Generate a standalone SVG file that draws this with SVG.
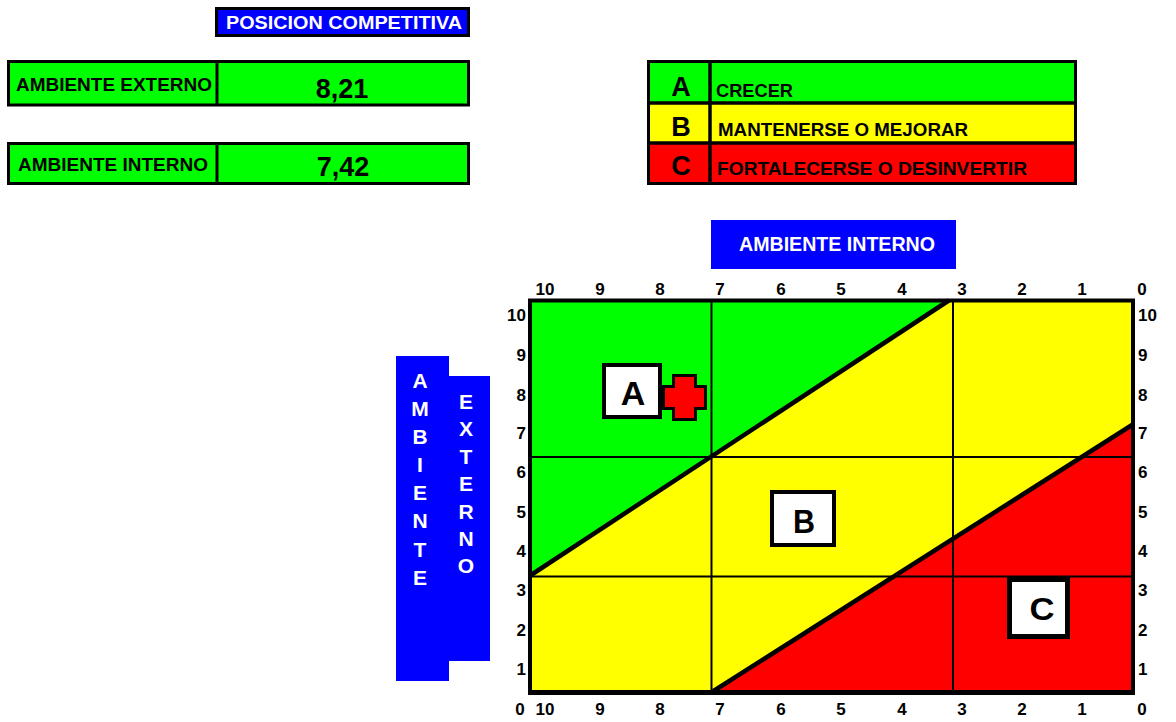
<svg xmlns="http://www.w3.org/2000/svg" width="1176" height="722" viewBox="0 0 1176 722">
<style>
text{font-family:"Liberation Sans",Arial,sans-serif;font-weight:bold;}
.w{fill:#fff;}
.k{fill:#000;}
.box{stroke:#000;stroke-width:3;}
.g{fill:#00FF00;}
.y{fill:#FFFF00;}
.r{fill:#FF0000;}
.b{fill:#0000FF;}
.grid{stroke:#000;stroke-width:2;fill:none;}
.diag{stroke:#000;stroke-width:4.5;fill:none;stroke-linecap:round;}
.num{font-size:17px;fill:#000;}
.mid{text-anchor:middle;}
.end{text-anchor:end;}
.lbl{fill:#fff;stroke:#000;stroke-width:4;}
</style>
<rect width="1176" height="722" fill="#fff"/>

<g id="title">
<rect class="box b" x="216.5" y="8.5" width="252" height="27"/>
<text class="w mid" x="344" y="29" font-size="17.5" textLength="236" lengthAdjust="spacingAndGlyphs">POSICION COMPETITIVA</text>
</g>

<g id="row-externo">
<rect class="box g" x="8.5" y="61.5" width="460" height="43.5"/>
<line x1="217" y1="61" x2="217" y2="106" stroke="#000" stroke-width="3"/>
<text class="k" x="16" y="91" font-size="17.5" textLength="196" lengthAdjust="spacingAndGlyphs">AMBIENTE EXTERNO</text>
<text class="k mid" x="342" y="98" font-size="27">8,21</text>
</g>

<g id="row-interno">
<rect class="box g" x="8.5" y="143.5" width="460" height="40"/>
<line x1="217" y1="143" x2="217" y2="185" stroke="#000" stroke-width="3"/>
<text class="k" x="18" y="171" font-size="17.5" textLength="190" lengthAdjust="spacingAndGlyphs">AMBIENTE INTERNO</text>
<text class="k mid" x="343" y="176" font-size="27">7,42</text>
</g>

<g id="legend">
<rect class="g" x="648" y="61" width="428" height="42"/>
<rect class="y" x="648" y="103" width="428" height="40"/>
<rect class="r" x="648" y="143" width="428" height="41"/>
<rect x="648.5" y="61.5" width="427" height="122" fill="none" stroke="#000" stroke-width="3"/>
<line x1="647" y1="103" x2="1077" y2="103" stroke="#000" stroke-width="3.5"/>
<line x1="647" y1="143" x2="1077" y2="143" stroke="#000" stroke-width="3.5"/>
<line x1="710" y1="60" x2="710" y2="185" stroke="#000" stroke-width="3.5"/>
<text class="k mid" x="681" y="96" font-size="27">A</text>
<text class="k mid" x="681" y="136" font-size="27">B</text>
<text class="k mid" x="681" y="175" font-size="27">C</text>
<text class="k" x="716" y="97" font-size="17.5" textLength="77" lengthAdjust="spacingAndGlyphs">CRECER</text>
<text class="k" x="718" y="136" font-size="17.5" textLength="250" lengthAdjust="spacingAndGlyphs">MANTENERSE O MEJORAR</text>
<text class="k" x="717" y="175" font-size="17.5" textLength="310" lengthAdjust="spacingAndGlyphs">FORTALECERSE O DESINVERTIR</text>
</g>

<g id="label-interno">
<rect class="b" x="711" y="220" width="245" height="49"/>
<text class="w mid" x="837" y="251" font-size="21" textLength="196" lengthAdjust="spacingAndGlyphs">AMBIENTE INTERNO</text>
</g>

<g id="label-externo">
<rect class="b" x="396" y="356" width="53" height="325"/>
<rect class="b" x="449" y="376" width="41" height="285"/>
<text class="w mid" font-size="21">
<tspan x="420" y="388">A</tspan><tspan x="420" y="416">M</tspan><tspan x="420" y="444">B</tspan><tspan x="420" y="472">I</tspan><tspan x="420" y="500">E</tspan><tspan x="420" y="528">N</tspan><tspan x="420" y="557">T</tspan><tspan x="420" y="585">E</tspan>
</text>
<text class="w mid" font-size="21">
<tspan x="466" y="409">E</tspan><tspan x="466" y="436">X</tspan><tspan x="466" y="464">T</tspan><tspan x="466" y="491">E</tspan><tspan x="466" y="519">R</tspan><tspan x="466" y="546">N</tspan><tspan x="466" y="573">O</tspan>
</text>
</g>

<g id="matrix">
<rect class="y" x="530" y="300" width="603" height="393"/>
<polygon class="g" points="530,300 948,300 530,576"/>
<polygon class="r" points="711,693 1133,424 1133,693"/>
</g>

<g id="connectors">
<line class="grid" x1="711.5" y1="300" x2="711.5" y2="693"/>
<line class="grid" x1="953" y1="300" x2="953" y2="693"/>
<line class="grid" x1="530" y1="457" x2="1133" y2="457"/>
<line class="grid" x1="530" y1="576.5" x2="1133" y2="576.5"/>
<line class="diag" x1="531" y1="575" x2="948" y2="301"/>
<line class="diag" x1="712" y1="692" x2="1132" y2="425"/>
<rect x="530" y="300.5" width="603" height="391.5" fill="none" stroke="#000" stroke-width="4"/>
<line x1="528" y1="692.5" x2="1135" y2="692.5" stroke="#000" stroke-width="5"/>
</g>

<g id="axis-top">
<text class="num mid" y="295"><tspan x="545">10</tspan><tspan x="600">9</tspan><tspan x="660">8</tspan><tspan x="720">7</tspan><tspan x="781">6</tspan><tspan x="841">5</tspan><tspan x="902">4</tspan><tspan x="962">3</tspan><tspan x="1022">2</tspan><tspan x="1082">1</tspan><tspan x="1142">0</tspan></text>
</g>
<g id="axis-bottom">
<text class="num mid" y="715"><tspan x="520">0</tspan><tspan x="545">10</tspan><tspan x="600">9</tspan><tspan x="660">8</tspan><tspan x="720">7</tspan><tspan x="781">6</tspan><tspan x="841">5</tspan><tspan x="902">4</tspan><tspan x="962">3</tspan><tspan x="1022">2</tspan><tspan x="1082">1</tspan><tspan x="1142">0</tspan></text>
</g>
<g id="axis-left">
<text class="num end"><tspan x="526" y="321">10</tspan><tspan x="526" y="361">9</tspan><tspan x="526" y="401">8</tspan><tspan x="526" y="439">7</tspan><tspan x="526" y="478">6</tspan><tspan x="526" y="518">5</tspan><tspan x="526" y="557">4</tspan><tspan x="526" y="596">3</tspan><tspan x="526" y="636">2</tspan><tspan x="526" y="675">1</tspan></text>
</g>
<g id="axis-right">
<text class="num"><tspan x="1138" y="321">10</tspan><tspan x="1138" y="361">9</tspan><tspan x="1138" y="401">8</tspan><tspan x="1138" y="439">7</tspan><tspan x="1138" y="478">6</tspan><tspan x="1138" y="518">5</tspan><tspan x="1138" y="557">4</tspan><tspan x="1138" y="596">3</tspan><tspan x="1138" y="636">2</tspan><tspan x="1138" y="675">1</tspan></text>
</g>

<g id="node-A">
<rect class="lbl" x="604" y="365" width="56" height="52"/>
<text class="k mid" x="633" y="405" font-size="34">A</text>
</g>
<g id="position-marker">
<path d="M673.5,375.5 H695.5 V386.5 H705.5 V408.5 H695.5 V419.5 H673.5 V408.5 H663.5 V386.5 H673.5 Z" fill="#FF0000" stroke="#000" stroke-width="3"/>
</g>
<g id="node-B">
<rect class="lbl" x="772" y="492" width="62" height="53"/>
<text class="k mid" x="804" y="533" font-size="33" textLength="22" lengthAdjust="spacingAndGlyphs">B</text>
</g>
<g id="node-C">
<rect x="1009.5" y="579.5" width="58" height="57" fill="#fff" stroke="#000" stroke-width="5"/>
<text class="k mid" x="1042" y="620" font-size="31" textLength="25" lengthAdjust="spacingAndGlyphs">C</text>
</g>
</svg>
